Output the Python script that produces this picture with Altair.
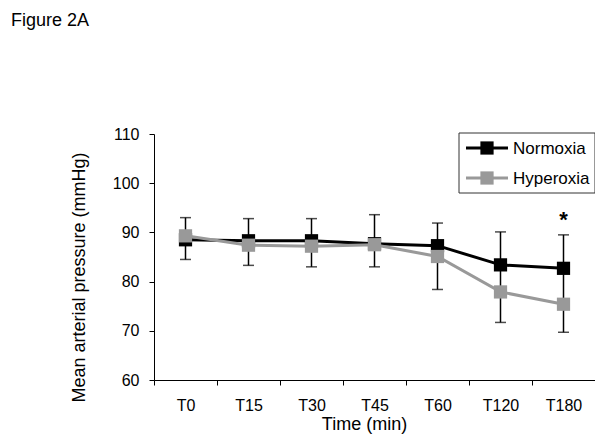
import altair as alt
import pandas as pd

# ---- data ----
times = ["T0", "T15", "T30", "T45", "T60", "T120", "T180"]
normoxia = [88.5, 88.3, 88.3, 87.7, 87.3, 83.4, 82.7]
hyperoxia = [89.3, 87.4, 87.2, 87.5, 85.1, 77.9, 75.4]
normoxia_upper = [93.0, 92.8, 92.8, 93.6, 91.9, 90.1, 89.5]
hyperoxia_lower = [84.5, 83.3, 83.0, 83.0, 78.4, 71.7, 69.7]
star_time = ["T180"]
star_value = [93.3]
series_names = ["Normoxia", "Hyperoxia"]
series_colors = ["#000000", "#999999"]
y_ticks = [60, 70, 80, 90, 100, 110]

FONT = "Liberation Sans"

df = pd.DataFrame({
    "time": times,
    "Normoxia": normoxia,
    "Hyperoxia": hyperoxia,
    "upper": normoxia_upper,
    "lower": hyperoxia_lower,
})
star_df = pd.DataFrame({"time": star_time, "value": star_value})

x_enc = alt.X(
    "time:N",
    sort=times,
    scale=alt.Scale(domain=times, paddingInner=0, paddingOuter=0),
    axis=alt.Axis(
        title="Time (min)", labelAngle=0, tickBand="extent",
        titleX=210, titleY=49, titleAlign="center", titleBaseline="alphabetic",
        labelPadding=12,
    ),
)
y_scale = alt.Scale(domain=[60, 110], nice=False, zero=False)
y_axis = alt.Axis(
    title="Mean arterial pressure (mmHg)", values=y_ticks,
    titleX=-70, titleY=143, titleAlign="center", titleBaseline="alphabetic",
    labelPadding=10,
)

base = alt.Chart(df)

err_rule = base.mark_rule(color="black", strokeWidth=1.5).encode(
    x=x_enc,
    y=alt.Y("upper:Q", scale=y_scale, axis=y_axis),
    y2="lower:Q",
)
cap_up = base.mark_tick(color="black", size=11, thickness=1.5).encode(
    x=alt.X("time:N", sort=times), y=alt.Y("upper:Q"))
cap_lo = base.mark_tick(color="black", size=11, thickness=1.5).encode(
    x=alt.X("time:N", sort=times), y=alt.Y("lower:Q"))

layers = [err_rule, cap_up, cap_lo]
for name, col in zip(series_names, series_colors):
    layers.append(base.mark_line(color=col, strokeWidth=3).encode(
        x=alt.X("time:N", sort=times), y=alt.Y(f"{name}:Q")))
    layers.append(base.mark_point(shape="square", filled=True, size=175,
                                  color=col, opacity=1).encode(
        x=alt.X("time:N", sort=times), y=alt.Y(f"{name}:Q")))

star = alt.Chart(star_df).mark_text(
    text="*", font=FONT, fontSize=22, fontWeight="bold", color="black",
    baseline="middle", dy=4,
).encode(x=alt.X("time:N", sort=times), y=alt.Y("value:Q"))
layers.append(star)

# ---- legend drawn by hand ----
one = pd.DataFrame({"a": [0]})
legend_box = alt.Chart(one).mark_rect(
    fill="white", stroke="#333333", strokeWidth=1
).encode(x=alt.value(305), x2=alt.value(441), y=alt.value(-1), y2=alt.value(59))
layers.append(legend_box)
for i, (name, col) in enumerate(zip(series_names, series_colors)):
    yy = 14 + 30 * i
    layers.append(alt.Chart(one).mark_rule(color=col, strokeWidth=3).encode(
        x=alt.value(312), x2=alt.value(354), y=alt.value(yy)))
    layers.append(alt.Chart(one).mark_point(shape="square", filled=True, size=175,
                                            color=col, opacity=1).encode(
        x=alt.value(333), y=alt.value(yy)))
    layers.append(alt.Chart(one).mark_text(
        text=name, font=FONT, fontSize=17, align="left", baseline="middle",
        color="black").encode(x=alt.value(359), y=alt.value(yy + 1)))

fig_title = alt.Chart(one).mark_text(
    text="Figure 2A", font=FONT, fontSize=18, align="left",
    baseline="alphabetic", color="black",
).encode(x=alt.value(-143), y=alt.value(-108))
layers.append(fig_title)

chart = alt.layer(*layers).properties(
    width=441, height=246,
    autosize=alt.AutoSizeParams(type="none"),
    padding={"left": 146, "top": 126, "right": 0, "bottom": 54},
    background="white",
).configure_view(stroke=None).configure_axis(
    grid=False, domainColor="black", tickColor="black", labelColor="black",
    titleColor="black", labelFont=FONT, titleFont=FONT, labelFontSize=16,
    titleFontSize=18, titleFontWeight="normal", tickSize=5, domainWidth=1,
    tickWidth=1,
)

chart.save("out.html", embed_options={"renderer": "svg", "actions": False})
